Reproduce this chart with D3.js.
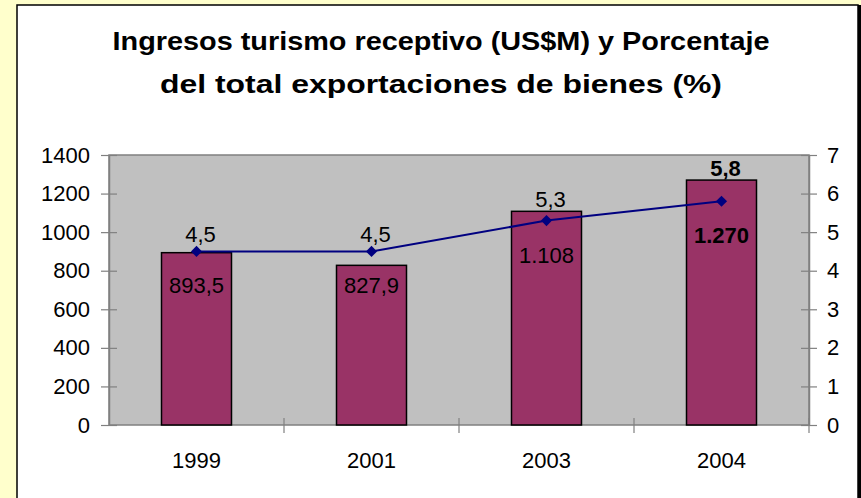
<!DOCTYPE html>
<html>
<head>
<meta charset="utf-8">
<script src="https://cdn.jsdelivr.net/npm/d3@7"></script>
<style>
  body { margin: 0; background: #ffffcc; }
  svg { display: block; font-family: Arial, "Liberation Sans", sans-serif; }
</style>
</head>
<body>
<svg width="861" height="498"></svg>
<script>
// data
var years = ['1999', '2001', '2003', '2004'];
var ingresos = [893.5, 827.9, 1108, 1270];
var ingresosLabels = ['893,5', '827,9', '1.108', '1.270'];
var porcentaje = [4.5, 4.5, 5.3, 5.8];
var porcentajeLabels = ['4,5', '4,5', '5,3', '5,8'];
var leftTicks = [0, 200, 400, 600, 800, 1000, 1200, 1400];
var rightTicks = [0, 1, 2, 3, 4, 5, 6, 7];
var titleLines = ['Ingresos turismo receptivo (US$M) y Porcentaje',
                  'del total exportaciones de bienes (%)'];
var titleWidths = [657, 562];

var svg = d3.select('svg');

// white panel on yellow background
svg.append('rect')
    .attr('x', 17).attr('y', 5)
    .attr('width', 841).attr('height', 520)
    .attr('fill', '#fff')
    .attr('stroke', '#000')
    .attr('stroke-width', 1.5);
svg.append('line')
    .attr('x1', 859.5).attr('x2', 859.5)
    .attr('y1', 5).attr('y2', 498)
    .attr('stroke', '#000').attr('stroke-width', 3);

// title
svg.selectAll('.title')
    .data(titleLines)
    .enter()
    .append('text')
    .attr('class', 'title')
    .attr('x', 441)
    .attr('y', function(d, i){ return 50 + i * 43; })
    .attr('text-anchor', 'middle')
    .attr('font-size', '26px')
    .attr('font-weight', 'bold')
    .attr('textLength', function(d, i){ return titleWidths[i]; })
    .attr('lengthAdjust', 'spacingAndGlyphs')
    .text(function(d){ return d; });

var pLeft = 109, pRight = 809, pTop = 155, pBottom = 425;

var x = d3.scaleBand().domain(years).range([pLeft, pRight]);
var yL = d3.scaleLinear().domain([0, 1400]).range([pBottom, pTop]);
var yR = d3.scaleLinear().domain([0, 7]).range([pBottom, pTop]);

// plot area
svg.append('rect')
    .attr('x', pLeft).attr('y', pTop)
    .attr('width', pRight - pLeft).attr('height', pBottom - pTop)
    .attr('fill', '#c0c0c0')
    .attr('stroke', '#808080')
    .attr('stroke-width', 1.5);

// bars
var barW = x.bandwidth() * 0.4;
svg.selectAll('.bar')
    .data(ingresos)
    .enter()
    .append('rect')
    .attr('class', 'bar')
    .attr('x', function(d, i){ return x(years[i]) + x.bandwidth() / 2 - barW / 2; })
    .attr('y', function(d){ return yL(d); })
    .attr('width', barW)
    .attr('height', function(d){ return pBottom - yL(d); })
    .attr('fill', '#993366')
    .attr('stroke', '#000')
    .attr('stroke-width', 1.5);

// axes
function styleAxis(g) {
    g.select('.domain').attr('stroke', '#808080').attr('stroke-width', 1.5);
    g.selectAll('.tick line').attr('stroke', '#808080').attr('stroke-width', 1.2);
    g.selectAll('.tick text').attr('font-size', '22px').attr('fill', '#000')
        .attr('font-family', 'Arial, "Liberation Sans", sans-serif');
}

svg.append('g')
    .attr('transform', 'translate(' + pLeft + ',0)')
    .call(d3.axisLeft(yL).tickValues(leftTicks).tickSizeInner(8).tickSizeOuter(0).tickPadding(11)
        .tickFormat(d3.format('d')))
    .call(styleAxis)
    .call(function(g){ g.selectAll('.tick line').attr('x2', 8).attr('x1', -8); });

svg.append('g')
    .attr('transform', 'translate(' + pRight + ',0)')
    .call(d3.axisRight(yR).tickValues(rightTicks).tickSizeInner(8).tickSizeOuter(0).tickPadding(10)
        .tickFormat(d3.format('d')))
    .call(styleAxis)
    .call(function(g){ g.selectAll('.tick line').attr('x1', -8).attr('x2', 8); });

// x axis: labels centered, tick marks between categories
var xAxis = svg.append('g')
    .attr('transform', 'translate(0,' + pBottom + ')')
    .call(d3.axisBottom(x).tickSize(0).tickPadding(43))
    .call(styleAxis);
xAxis.select('.domain').remove();
xAxis.selectAll('.tick text').attr('dy', '0');
svg.selectAll('.xsep')
    .data(years.slice(1).concat(['end']))
    .enter()
    .append('line')
    .attr('class', 'xsep')
    .attr('x1', function(d, i){ return i < years.length - 1 ? x(d) : pRight; })
    .attr('x2', function(d, i){ return i < years.length - 1 ? x(d) : pRight; })
    .attr('y1', pBottom - 7).attr('y2', pBottom + 8)
    .attr('stroke', '#808080').attr('stroke-width', 1.2);

// percentage line
var cx = function(i){ return x(years[i]) + x.bandwidth() / 2; };
var line = d3.line()
    .x(function(d, i){ return cx(i); })
    .y(function(d){ return yR(d); });

svg.append('path')
    .datum(porcentaje)
    .attr('d', line)
    .attr('fill', 'none')
    .attr('stroke', '#000080')
    .attr('stroke-width', 2);

svg.selectAll('.marker')
    .data(porcentaje)
    .enter()
    .append('path')
    .attr('class', 'marker')
    .attr('d', d3.symbol().type(d3.symbolSquare).size(62))
    .attr('transform', function(d, i){ return 'translate(' + cx(i) + ',' + yR(d) + ') rotate(45)'; })
    .attr('fill', '#000080');

var last = years.length - 1;

// percentage labels, above the marker or above the bar top
svg.selectAll('.plabel')
    .data(porcentaje)
    .enter()
    .append('text')
    .attr('class', 'plabel')
    .attr('x', function(d, i){ return cx(i) + 4; })
    .attr('y', function(d, i){ return Math.min(yR(d) - 17, yL(ingresos[i]) - 12) + 8; })
    .attr('text-anchor', 'middle')
    .attr('font-size', '22px')
    .attr('font-weight', function(d, i){ return i === last ? 'bold' : 'normal'; })
    .text(function(d, i){ return porcentajeLabels[i]; });

// bar value labels, inside the bar under the marker
svg.selectAll('.blabel')
    .data(ingresos)
    .enter()
    .append('text')
    .attr('class', 'blabel')
    .attr('x', function(d, i){ return cx(i); })
    .attr('y', function(d, i){ return yR(porcentaje[i]) + 34 + 8; })
    .attr('text-anchor', 'middle')
    .attr('font-size', '22px')
    .attr('font-weight', function(d, i){ return i === last ? 'bold' : 'normal'; })
    .text(function(d, i){ return ingresosLabels[i]; });
</script>
</body>
</html>
